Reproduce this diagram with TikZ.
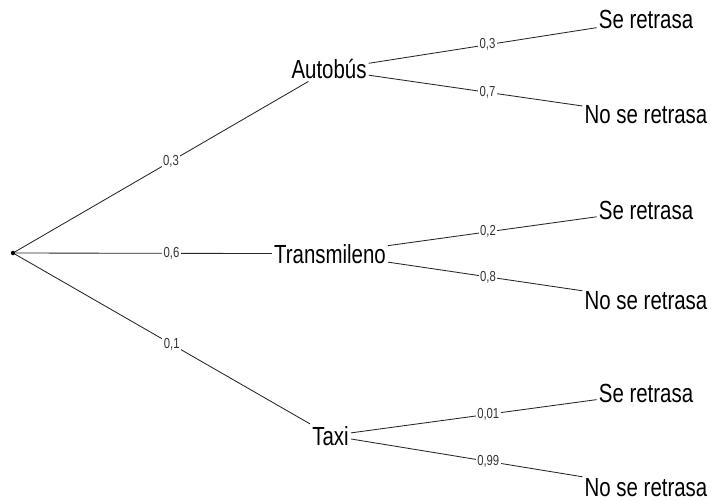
\documentclass[tikz,border=0pt]{standalone}
\usepackage{fontspec}
\setmainfont{Liberation Sans}[FakeStretch=0.78]
\usetikzlibrary{calc}
\begin{document}
\begin{tikzpicture}[x=1pt,y=-1pt,
  outcome/.style={font=\fontsize{26.2}{30}\selectfont, inner sep=2pt, anchor=base, text=black},
  prob/.style={font=\fontsize{14.5}{16}\selectfont, fill=white, inner sep=1.5pt, text=black!80},
  branch/.style={draw=black!85, line width=0.85pt}]
\useasboundingbox (0,0) rectangle (711,500);
\node[circle, fill=black, inner sep=0pt, minimum size=4.5pt] (r) at (13,253) {};
\node[outcome] (a) at (329,79) {Autobús};
\node[outcome] (t) at (330,263) {Transmileno};
\node[outcome] (x) at (330.5,445) {Taxi};
\node[outcome] (a1) at (646,29) {Se retrasa};
\node[outcome] (a2) at (646,124) {No se retrasa};
\node[outcome] (t1) at (646,219) {Se retrasa};
\node[outcome] (t2) at (646,309) {No se retrasa};
\node[outcome] (x1) at (646,402) {Se retrasa};
\node[outcome] (x2) at (646,496) {No se retrasa};
\foreach \p/\c/\l in {r/a/{0,3}, r/t/{0,6}, r/x/{0,1}, a/a1/{0,3}, a/a2/{0,7}, t/t1/{0,2}, t/t2/{0,8}, x/x1/{0,01}, x/x2/{0,99}} {
  \draw[branch] (\p) -- (\c);
  \node[prob] (l-\p-\c) at ($(\p.center)!0.5!(\c.center)$) {\l};
}
\end{tikzpicture}
\end{document}
